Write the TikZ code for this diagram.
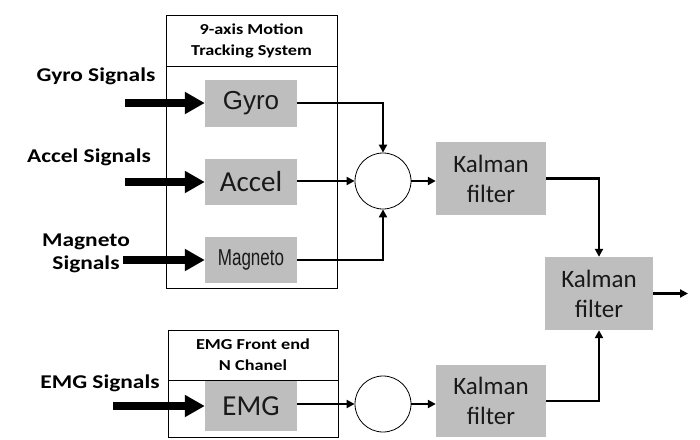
\documentclass[tikz,border=0pt]{standalone}
\usepackage{fontspec}
\setmainfont{Carlito}
\newfontfamily\labelfont[FakeStretch=1.2]{Carlito}
\newfontfamily\arialfont{Liberation Sans}
\newfontfamily\narrowfont[FakeStretch=0.74]{Liberation Sans}
\usetikzlibrary{arrows.meta,calc}
\definecolor{boxgrey}{RGB}{190,190,190}
\definecolor{txt}{RGB}{25,25,25}
\tikzset{
  frame/.style={draw=black, line width=0.8pt, inner sep=0pt},
  greybox/.style={fill=boxgrey, draw=none, inner sep=0pt, text=txt, align=center},
  sumcirc/.style={circle, draw=black, line width=0.8pt, fill=white, minimum size=56pt, inner sep=0pt},
  biglabel/.style={font=\labelfont\bfseries\fontsize{19.5}{23}\selectfont, text=black, align=center, inner sep=0pt},
  headtext/.style={font=\labelfont\bfseries\fontsize{15.2}{21}\selectfont, text=black, align=center, inner sep=0pt},
  kalmantext/.style={font=\fontsize{25}{30}\selectfont},
  thick arrow/.style={line width=8pt, -{Triangle[length=20pt,width=21pt]}},
  thin arrow/.style={line width=2.4pt, -{Triangle[length=8pt,width=8pt]}},
}
\begin{document}
\begin{tikzpicture}[x=1pt,y=-1pt]
\useasboundingbox (0,0) rectangle (700,439);
% outer frames
\node[frame, minimum width=171pt, minimum height=273pt] (frame1) at (251.5,151.5) {};
\coordinate (h1l) at (166,66);
\coordinate (h1r) at (337,66);
\draw[line width=0.8pt] (h1l) -- (h1r);
\node[headtext] (head1) at (251.5,41) {9-axis Motion\\Tracking System};

\node[frame, minimum width=170pt, minimum height=107pt] (frame2) at (253,383.5) {};
\coordinate (h2l) at (168,380);
\coordinate (h2r) at (338,380);
\draw[line width=0.8pt] (h2l) -- (h2r);
\node[headtext] (head2) at (253,355) {EMG Front end\\N Chanel};

% sensor boxes
\node[greybox, minimum width=92pt, minimum height=47pt, font=\arialfont\fontsize{26}{30}\selectfont] (gyro) at (251,103) {Gyro};
\node[greybox, minimum width=92pt, minimum height=46pt, font=\fontsize{29}{32}\selectfont] (accel) at (251,182) {Accel};
\node[greybox, minimum width=92pt, minimum height=46pt, font=\narrowfont\fontsize{23}{24}\selectfont] (magneto) at (251,260) {Magneto};
\node[greybox, minimum width=92pt, minimum height=50pt, font=\fontsize{29}{32}\selectfont] (emg) at (251,406) {EMG};

% sum circles
\node[sumcirc] (c1) at (383,181) {};
\node[sumcirc] (c2) at (383,404) {};

% Kalman filters
\node[greybox, kalmantext, minimum width=110pt, minimum height=73pt] (kf1) at (491,178.5) {Kalman\\filter};
\node[greybox, kalmantext, minimum width=108pt, minimum height=73pt] (kf3) at (599,293.5) {Kalman\\filter};
\node[greybox, kalmantext, minimum width=110pt, minimum height=72pt] (kf2) at (491,401) {Kalman\\filter};

% labels
\node[biglabel] (lgyro) at (96,76) {Gyro Signals};
\node[biglabel] (laccel) at (89,157) {Accel Signals};
\node[biglabel] (lmag) at (86,253) {Magneto\\Signals};
\node[biglabel] (lemg) at (100,383) {EMG Signals};

% thick input arrows
\coordinate (ingyro) at (125,103);
\coordinate (inaccel) at (125,182);
\coordinate (inmag) at (123,260);
\coordinate (inemg) at (113,406);
\draw[thick arrow] (ingyro) -- (gyro.west);
\draw[thick arrow] (inaccel) -- (accel.west);
\draw[thick arrow] (inmag) -- (magneto.west);
\draw[thick arrow] (inemg) -- (emg.west);

% thin connectors
\draw[thin arrow] (gyro.east) -| (c1.north);
\draw[thin arrow] (accel.east |- c1.west) -- (c1.west);
\draw[thin arrow] (magneto.east) -| (c1.south);
\draw[thin arrow] (c1.east) -- (kf1.west |- c1.east);
\draw[thin arrow] (kf1.east) -| (kf3.north);
\coordinate (out) at (688,293.5);
\draw[thin arrow] (kf3.east) -- (out);
\draw[thin arrow] (emg.east |- c2.west) -- (c2.west);
\draw[thin arrow] (c2.east) -- (kf2.west |- c2.east);
\draw[thin arrow] (kf2.east) -| (kf3.south);
\end{tikzpicture}
\end{document}
